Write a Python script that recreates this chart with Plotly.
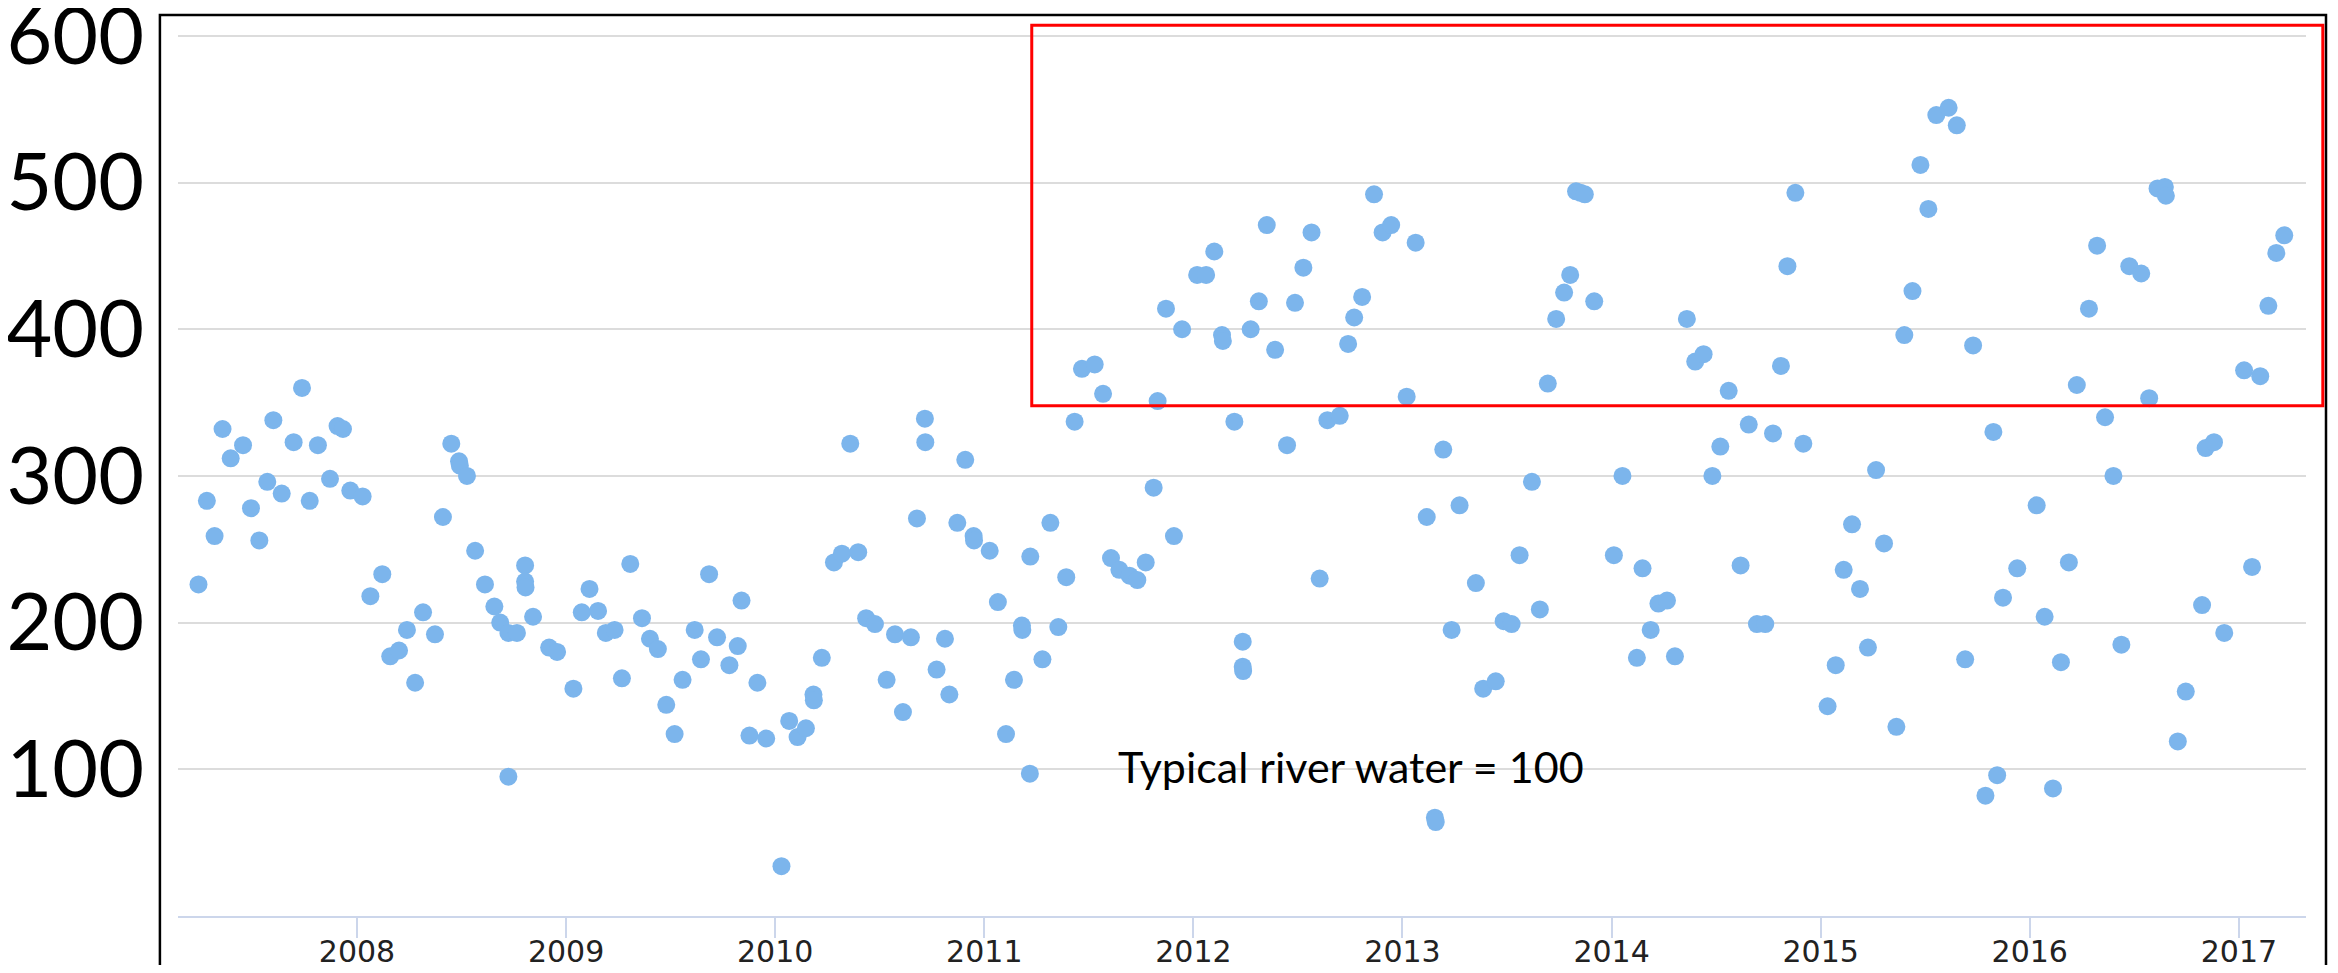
import plotly.graph_objects as go

# Sample dates as decimal years
sample_year = [
    2007.242, 2007.282, 2007.319, 2007.357, 2007.396, 2007.455, 2007.493, 2007.533, 2007.571, 2007.600,
    2007.640, 2007.697, 2007.737, 2007.774, 2007.813, 2007.871, 2007.907, 2007.933, 2007.968, 2008.027,
    2008.064, 2008.121, 2008.159, 2008.201, 2008.239, 2008.278, 2008.316, 2008.373, 2008.411, 2008.451,
    2008.488, 2008.492, 2008.526, 2008.565, 2008.612, 2008.657, 2008.685, 2008.724, 2008.724, 2008.765,
    2008.804, 2008.804, 2008.806, 2008.842, 2008.919, 2008.957, 2009.035, 2009.075, 2009.112, 2009.153,
    2009.190, 2009.232, 2009.267, 2009.307, 2009.363, 2009.401, 2009.439, 2009.479, 2009.519, 2009.557,
    2009.615, 2009.645, 2009.684, 2009.722, 2009.781, 2009.821, 2009.839, 2009.877, 2009.915, 2009.957,
    2010.030, 2010.067, 2010.107, 2010.147, 2010.183, 2010.185, 2010.223, 2010.281, 2010.319, 2010.359,
    2010.397, 2010.435, 2010.477, 2010.533, 2010.573, 2010.611, 2010.649, 2010.678, 2010.716, 2010.718,
    2010.772, 2010.812, 2010.833, 2010.871, 2010.909, 2010.949, 2010.951, 2011.026, 2011.065, 2011.104,
    2011.142, 2011.180, 2011.182, 2011.218, 2011.220, 2011.278, 2011.316, 2011.354, 2011.392, 2011.432,
    2011.467, 2011.528, 2011.568, 2011.606, 2011.646, 2011.695, 2011.732, 2011.772, 2011.810, 2011.829,
    2011.869, 2011.907, 2011.946, 2012.018, 2012.061, 2012.100, 2012.137, 2012.141, 2012.196, 2012.236,
    2012.236, 2012.238, 2012.274, 2012.313, 2012.351, 2012.391, 2012.448, 2012.486, 2012.526, 2012.565,
    2012.604, 2012.641, 2012.700, 2012.740, 2012.769, 2012.807, 2012.864, 2012.905, 2012.946, 2013.020,
    2013.063, 2013.116, 2013.155, 2013.159, 2013.195, 2013.235, 2013.273, 2013.351, 2013.386, 2013.446,
    2013.484, 2013.522, 2013.560, 2013.619, 2013.657, 2013.695, 2013.735, 2013.773, 2013.802, 2013.830,
    2013.852, 2013.872, 2013.917, 2014.011, 2014.052, 2014.121, 2014.148, 2014.187, 2014.224, 2014.265,
    2014.303, 2014.360, 2014.400, 2014.440, 2014.482, 2014.520, 2014.560, 2014.617, 2014.656, 2014.695,
    2014.735, 2014.772, 2014.810, 2014.841, 2014.879, 2014.917, 2015.033, 2015.072, 2015.110, 2015.150,
    2015.188, 2015.226, 2015.265, 2015.303, 2015.362, 2015.400, 2015.439, 2015.477, 2015.515, 2015.553,
    2015.612, 2015.651, 2015.691, 2015.729, 2015.788, 2015.826, 2015.844, 2015.872, 2015.940, 2016.033,
    2016.071, 2016.111, 2016.149, 2016.187, 2016.225, 2016.283, 2016.322, 2016.360, 2016.400, 2016.438,
    2016.476, 2016.533, 2016.571, 2016.611, 2016.646, 2016.651, 2016.708, 2016.746, 2016.824, 2016.841,
    2016.881, 2016.930, 2017.025, 2017.063, 2017.102, 2017.141, 2017.179, 2017.217,
]

# Measured values (typical river water = 100)
sample_value = [
    226, 283, 259, 332, 312, 321, 278, 256, 296, 338,
    288, 323, 360, 283, 321, 298, 334, 332, 290, 286,
    218, 233, 177, 181, 195, 159, 207, 192, 272, 322,
    310, 307, 300, 249, 226, 211, 200, 193, 95, 193,
    239, 228, 224, 204, 183, 180, 155, 207, 223, 208,
    193, 195, 162, 240, 203, 189, 182, 144, 124, 161,
    195, 175, 233, 190, 171, 184, 215, 123, 159, 121,
    34, 133, 122, 128, 151, 147, 176, 241, 247, 322,
    248, 203, 199, 161, 192, 139, 190, 271, 339, 323,
    168, 189, 151, 268, 311, 259, 256, 249, 214, 124,
    161, 198, 195, 97, 245, 175, 268, 197, 231, 337,
    373, 376, 356, 244, 236, 232, 229, 241, 292, 351,
    414, 259, 400, 437, 437, 453, 396, 392, 337, 187,
    170, 167, 400, 419, 471, 386, 321, 418, 442, 466,
    230, 338, 341, 390, 408, 422, 492, 466, 471, 354,
    459, 272, 67, 64, 318, 195, 280, 227, 155, 160,
    201, 199, 246, 296, 209, 363, 407, 425, 437, 494,
    493, 492, 419, 246, 300, 176, 237, 195, 213, 215,
    177, 407, 378, 383, 300, 320, 358, 239, 335, 199,
    199, 329, 375, 443, 493, 322, 143, 171, 236, 267,
    223, 183, 304, 254, 129, 396, 426, 512, 482, 546,
    551, 539, 175, 389, 82, 330, 96, 217, 237, 280,
    204, 87, 173, 241, 362, 414, 457, 340, 300, 185,
    443, 438, 353, 496, 497, 491, 119, 153, 212, 319,
    323, 193, 372, 238, 368, 416, 452, 464,
]

year_ticks = [2008, 2009, 2010, 2011, 2012, 2013, 2014, 2015, 2016, 2017]
year_labels = [str(y) for y in year_ticks]
value_ticks = [100, 200, 300, 400, 500, 600]
value_labels = [str(v) for v in value_ticks]
note_text = "Typical river water = 100"

fig = go.Figure()
fig.add_trace(go.Scatter(
    x=sample_year, y=sample_value, mode="markers",
    marker=dict(size=18, color="#7cb5ec", line=dict(width=0)),
    showlegend=False, hoverinfo="x+y", cliponaxis=False,
))

# the page body has an 8px margin; figure is sized to fit inside the window
fig.update_layout(
    width=2322, height=957,
    margin=dict(l=170, r=24, t=22, b=49, autoexpand=False),
    paper_bgcolor="white", plot_bgcolor="white",
    xaxis=dict(
        range=[2007.144, 2017.321], tickmode="array",
        tickvals=year_ticks, ticktext=year_labels, automargin=False,
        showgrid=False, zeroline=False,
        showline=True, linecolor="#ccd6eb", linewidth=2,
        ticks="outside", ticklen=20, tickwidth=1.5, tickcolor="#ccd6eb",
        tickfont=dict(family="DejaVu Sans", size=30, color="#222222"),
        ticklabelstandoff=-12, ticklabeloverflow="allow",
    ),
    yaxis=dict(
        range=[0, 604], tickmode="array",
        tickvals=value_ticks, ticktext=value_labels, automargin=False,
        showgrid=True, gridcolor="#dcdcdc", gridwidth=2,
        zeroline=False, showline=False, ticks="",
        ticklabelstandoff=33, ticklabeloverflow="allow",
        tickfont=dict(family="Lato", size=79, color="#000000"),
    ),
    shapes=[
        dict(type="rect", xref="paper", yref="paper",
             x0=-0.0085, x1=1.0094, y0=-0.2, y1=1.0169,
             line=dict(color="black", width=2.5), fillcolor="rgba(0,0,0,0)", layer="above"),
        dict(type="rect", xref="paper", yref="paper",
             x0=0.4012, x1=1.0079, y0=0.5760, y1=1.0054,
             line=dict(color="#ff0000", width=3), fillcolor="rgba(0,0,0,0)", layer="above"),
    ],
    annotations=[
        dict(x=2012.754, y=102, xref="x", yref="y", text=note_text, showarrow=False,
             xanchor="center", yanchor="middle",
             font=dict(family="Lato", size=43, color="#000000")),
    ],
)

fig.write_html("out.html")
